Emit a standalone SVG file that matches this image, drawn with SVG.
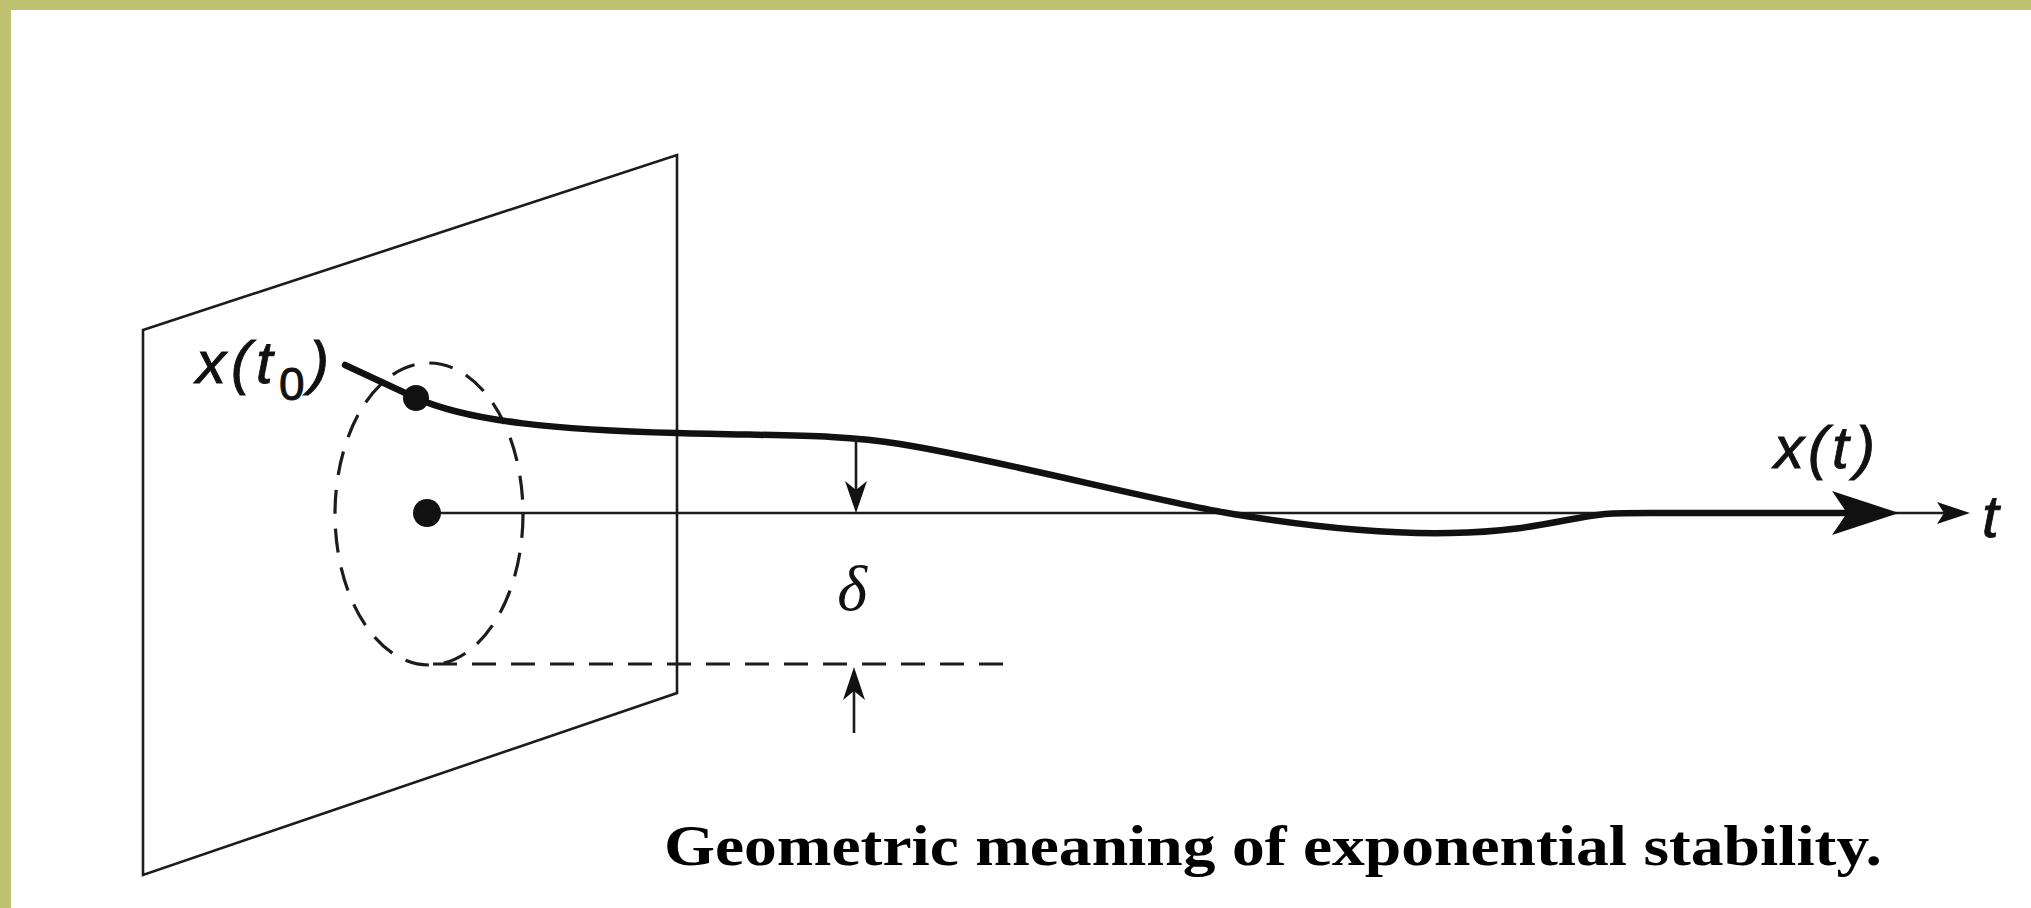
<svg xmlns="http://www.w3.org/2000/svg" width="2031" height="908" viewBox="0 0 2031 908">
<style>
.thin{fill:none;stroke:#1c1c1c;stroke-width:2.6}
.dash{fill:none;stroke:#1c1c1c;stroke-width:3.2;stroke-dasharray:24 15}
.traj{fill:none;stroke:#111;stroke-width:6.5;stroke-linecap:round;stroke-linejoin:round}
.head{fill:#111;stroke:none}
.lbl{font-family:"Liberation Sans",Arial,sans-serif;font-style:italic;font-size:60px;fill:#111;stroke:#111;stroke-width:0.9}
.delta{font-family:"Liberation Serif","Times New Roman",serif;font-style:italic;font-size:64px;fill:#111}
.cap{font-family:"Liberation Serif","Times New Roman",serif;font-weight:bold;font-size:58px;fill:#000}
</style>
<rect x="0" y="0" width="2031" height="908" fill="#ffffff"/>
<rect x="0" y="0" width="2031" height="10" fill="#BFC270"/>
<rect x="0" y="0" width="11" height="908" fill="#BFC270"/>

<g id="plane">
<polygon class="thin" points="143,330 677,155 677,693 143,875"/>
</g>

<g id="neighbourhood">
<ellipse class="dash" cx="429" cy="514" rx="94" ry="151"/>
<line class="dash" x1="433" y1="664" x2="1007" y2="664"/>
</g>

<g id="connectors">
<line class="thin" x1="427" y1="513" x2="1946" y2="513"/>
<polygon class="head" points="1970,513 1937,502 1944,513 1937,524"/>
<path class="traj" d="M345,365 L416,398 C470,422 560,430 677,433 C780,436 840,434 900,444 C1000,460 1150,500 1233,514 C1330,530 1400,534 1450,533 C1530,532 1565,518 1605,514 C1620,513 1630,513 1650,513 L1850,513"/>
<polygon class="head" points="1899,513 1832,491 1847,513 1832,535"/>
<line class="thin" x1="856" y1="438" x2="856" y2="495"/>
<polygon class="head" points="856,513 845,481 856,490 867,481"/>
<line class="thin" x1="854" y1="733" x2="854" y2="685"/>
<polygon class="head" points="854,667 843,700 854,691 865,700"/>
</g>

<g id="points">
<circle cx="416" cy="398" r="13" fill="#111"/>
<circle cx="427" cy="513" r="14" fill="#111"/>
</g>

<g id="labels">
<text class="lbl" y="383"><tspan x="196">x</tspan><tspan x="231">(</tspan><tspan x="256">t</tspan><tspan x="279" y="400" font-size="46" font-style="normal">0</tspan><tspan x="309" y="383">)</tspan></text>
<text class="lbl" y="468"><tspan x="1774">x</tspan><tspan x="1808">(</tspan><tspan x="1832">t</tspan><tspan x="1855">)</tspan></text>
<text class="lbl" x="1982" y="537">t</text>
<text class="delta" x="852" y="610" text-anchor="middle">δ</text>
<text class="cap" x="664" y="865" textLength="1218" lengthAdjust="spacingAndGlyphs">Geometric meaning of exponential stability.</text>
</g>
</svg>
